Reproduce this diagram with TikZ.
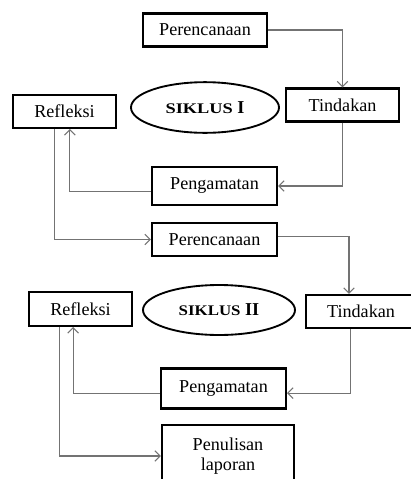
\documentclass[tikz,border=0pt]{standalone}
\usepackage{fontspec}
\setmainfont{Liberation Serif}
\usetikzlibrary{arrows.meta,shapes.geometric}

\begin{document}
\begin{tikzpicture}[x=0.75pt,y=-0.75pt,
    font=\fontsize{13.6}{16}\selectfont,
    box/.style={draw, line width=1.6pt, inner sep=0pt, minimum height=24.75pt},
    siklus/.style={draw, ellipse, line width=1.4pt, inner sep=0pt},
    link/.style={draw=black!55, line width=0.8pt, -{Straight Barb[length=4pt,width=8pt]}}]
    \useasboundingbox (0,0) rectangle (411,479);
    % siklus I
    \node [box, minimum width=93pt] (per1) at (205,30) {Perencanaan};
    \node [box, minimum width=84.75pt] (tin1) at (342.5,105) {Tindakan};
    \node [box, minimum width=77.25pt] (ref1) at (64.5,111.5) {Refleksi};
    \node [siklus, minimum width=111pt, minimum height=38pt] (sik1) at (205,107.5)
      {\textbf{\scalebox{1.25}[1]{\fontsize{11}{14}\selectfont SIKLUS} I}};
    \node [box, minimum width=93.75pt, minimum height=28.5pt] (pen1) at (214.5,186) {Pengamatan};
    % siklus II
    \node [box, minimum width=93.75pt] (per2) at (214.5,239.5) {Perencanaan};
    \node [box, minimum width=82.5pt] (tin2) at (361,311.5) {Tindakan};
    \node [box, minimum width=77.25pt, minimum height=25.5pt] (ref2) at (80.5,309) {Refleksi};
    \node [siklus, minimum width=114pt, minimum height=37.5pt] (sik2) at (219,310)
      {\textbf{\scalebox{1.15}[1]{\fontsize{11}{14}\selectfont SIKLUS} II}};
    \node [box, minimum width=93.75pt, minimum height=30pt] (pen2) at (223.5,388.5) {Pengamatan};
    \node [box, minimum width=99pt, minimum height=47pt, align=center] (lap) at (228,456)
      {Penulisan\\[-1pt]laporan};

    \draw [link] (per1.east) -| (tin1.north);
    \draw [link] (tin1.south) |- (pen1.east);
    \draw [link] ([yshift=-4pt]pen1.west) -| ([xshift=4pt]ref1.south);
    \draw [link] ([xshift=-7.5pt]ref1.south) |- (per2.west);
    \draw [link] ([yshift=2pt]per2.east) -| ([xshift=-9pt]tin2.north);
    \draw [link] ([xshift=-8pt]tin2.south) |- ([yshift=-3.5pt]pen2.east);
    \draw [link] ([yshift=-3.5pt]pen2.west) -| ([xshift=-5.5pt]ref2.south);
    \draw [link] ([xshift=-16pt]ref2.south) |- (lap.west);
  \end{tikzpicture}
\end{document}
